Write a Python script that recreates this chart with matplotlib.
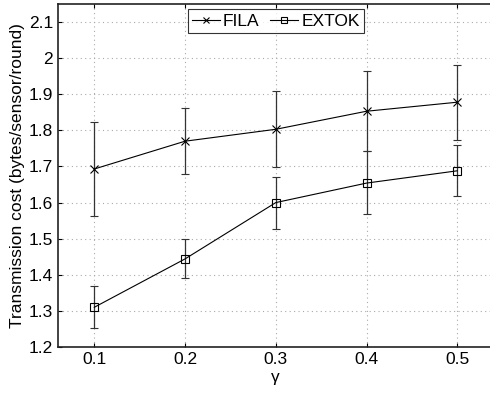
import numpy as np
import matplotlib.pyplot as plt
from matplotlib.lines import Line2D

plt.rcParams['font.family'] = ['Liberation Sans', 'DejaVu Sans']

# gamma values
gamma = [0.1, 0.2, 0.3, 0.4, 0.5]

# FILA: mean, lower and upper error bar ends
fila = [1.693, 1.770, 1.803, 1.853, 1.878]
fila_lo = [1.563, 1.678, 1.698, 1.742, 1.773]
fila_hi = [1.822, 1.862, 1.908, 1.965, 1.981]

# EXTOK
extok = [1.310, 1.444, 1.600, 1.654, 1.688]
extok_lo = [1.253, 1.390, 1.528, 1.569, 1.619]
extok_hi = [1.370, 1.500, 1.670, 1.742, 1.759]

xticks = [0.1, 0.2, 0.3, 0.4, 0.5]
yticks = [1.2, 1.3, 1.4, 1.5, 1.6, 1.7, 1.8, 1.9, 2.0, 2.1]
yticklabels = ['1.2', '1.3', '1.4', '1.5', '1.6', '1.7', '1.8', '1.9', '2', '2.1']

fs = 12.5

fig = plt.figure(figsize=(4.9, 3.93), dpi=100)
ax = fig.add_axes([58 / 490, 46 / 393, 435.6 / 490, 343 / 393])

def err(m, lo, hi):
    m = np.array(m)
    return [m - np.array(lo), np.array(hi) - m]

ax.errorbar(gamma, fila, yerr=err(fila, fila_lo, fila_hi), color='black',
            ecolor='#333333', elinewidth=0.9, capsize=2.7, capthick=0.9,
            lw=0.8, marker='x', ms=6, mew=0.8)
ax.errorbar(gamma, extok, yerr=err(extok, extok_lo, extok_hi), color='black',
            ecolor='#333333', elinewidth=0.9, capsize=2.7, capthick=0.9,
            lw=0.8, marker='s', ms=6, mew=0.8, mfc='none')

ax.set_xlim(0.06, 0.54)
ax.set_ylim(1.2, 2.15)
ax.set_xticks(xticks)
ax.set_yticks(yticks)
ax.set_yticklabels(yticklabels)
ax.tick_params(labelsize=fs, direction='in', length=3, width=0.8, top=True, right=True)
ax.grid(True, linestyle=(0, (1, 3)), color='#aaaaaa', lw=0.8)
for s in ax.spines.values():
    s.set_linewidth(1.2)
    s.set_color('#222222')

ax.set_xlabel('γ', fontsize=fs, labelpad=2)
ax.set_ylabel('Transmission cost (bytes/sensor/round)', fontsize=fs, labelpad=3)

handles = [Line2D([], [], color='black', lw=0.8, marker='x', ms=5, mew=0.8),
           Line2D([], [], color='black', lw=0.8, marker='s', ms=5, mew=0.8, mfc='none')]
leg = ax.legend(handles, ['FILA', 'EXTOK'], loc='upper center',
                bbox_to_anchor=(0.5, 0.99), ncol=2, fontsize=fs, frameon=True,
                fancybox=False, handlelength=1.6, handletextpad=0.2,
                columnspacing=0.6, borderpad=0.25, borderaxespad=0.1)
leg.get_frame().set_edgecolor('black')
leg.get_frame().set_linewidth(0.8)

fig.savefig('out.png', dpi=100)
